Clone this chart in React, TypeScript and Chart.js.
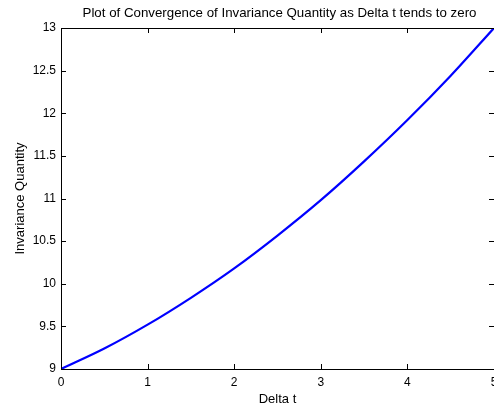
import React, { useEffect, useRef } from "react";
import { Chart, registerables } from "chart.js";

Chart.register(...registerables);

const deltaT = [0, 0.5, 1, 1.5, 2, 2.5, 3, 3.5, 4, 4.5, 5];
const invariance = [9, 9.24, 9.52, 9.835, 10.18, 10.565, 10.98, 11.435, 11.92, 12.44, 13];
const xTicks = [0, 1, 2, 3, 4, 5];
const yTicks = [9, 9.5, 10, 10.5, 11, 11.5, 12, 12.5, 13];
const yTickLabels = ["9", "9.5", "10", "10.5", "11", "11.5", "12", "12.5", "13"];

const titleText = "Plot of Convergence of Invariance Quantity as Delta t tends to zero";
const xTitle = "Delta t";
const yTitle = "Invariance Quantity";

const FONT = "Liberation Sans, Arial, Helvetica, sans-serif";

const framePlugin = {
  id: "matlabFrame",
  afterDraw(chart: any) {
    const { ctx, chartArea, scales } = chart;
    const { left, right, top, bottom } = chartArea;
    ctx.save();
    ctx.strokeStyle = "#000";
    ctx.lineWidth = 1;
    ctx.beginPath();
    ctx.moveTo(left + 0.5, bottom + 0.5);
    ctx.lineTo(left + 0.5, top + 0.5);
    ctx.lineTo(right + 1, top + 0.5);
    ctx.moveTo(left + 0.5, bottom + 0.5);
    ctx.lineTo(right + 1, bottom + 0.5);
    ctx.stroke();
    const tl = 5;
    ctx.beginPath();
    for (const v of xTicks) {
      const px = Math.round(scales.x.getPixelForValue(v)) + 0.5;
      ctx.moveTo(px, bottom);
      ctx.lineTo(px, bottom - tl);
      ctx.moveTo(px, top);
      ctx.lineTo(px, top + tl);
    }
    for (const v of yTicks) {
      const py = Math.round(scales.y.getPixelForValue(v)) + 0.5;
      ctx.moveTo(left, py);
      ctx.lineTo(left + tl, py);
      ctx.moveTo(right, py);
      ctx.lineTo(right - tl, py);
    }
    ctx.stroke();

    ctx.fillStyle = "#000";
    ctx.textAlign = "center";
    ctx.textBaseline = "alphabetic";
    const cx = (left + right) / 2;
    ctx.font = `13.3px ${FONT}`;
    ctx.fillText(titleText, cx + 2, 17);
    ctx.font = `13px ${FONT}`;
    ctx.fillText(xTitle, cx, 403);
    ctx.translate(24, (top + bottom) / 2);
    ctx.rotate(-Math.PI / 2);
    ctx.fillText(yTitle, 0, 0);
    ctx.restore();
  },
};

export default function App() {
  const ref = useRef<HTMLCanvasElement>(null);
  useEffect(() => {
    document.body.style.margin = "0";
    const chart = new Chart(ref.current!, {
      type: "line",
      data: {
        datasets: [
          {
            data: deltaT.map((x, i) => ({ x, y: invariance[i] })),
            borderColor: "#0000ff",
            borderWidth: 2.2,
            pointRadius: 0,
            tension: 0.4,
            cubicInterpolationMode: "monotone",
            fill: false,
          },
        ],
      },
      options: {
        animation: false,
        responsive: false,
        layout: { padding: { top: 28, right: 0, left: 0, bottom: 0 } },
        plugins: { legend: { display: false }, title: { display: false }, tooltip: { enabled: false } },
        scales: {
          x: {
            type: "linear",
            min: 0,
            max: 5,
            afterFit: (s: any) => {
              s.height = 39;
              s.paddingLeft = 0;
              s.paddingRight = 0;
            },
            grid: { display: false, drawTicks: false },
            border: { display: false },
            afterBuildTicks: (s: any) => { s.ticks = xTicks.map((v) => ({ value: v })); },
            ticks: { color: "#000", font: { family: FONT, size: 12 }, padding: 6, maxRotation: 0, callback: (v: any) => String(v) },
          },
          y: {
            type: "linear",
            min: 9,
            max: 13,
            afterFit: (s: any) => {
              s.width = 61;
              s.paddingTop = 0;
              s.paddingBottom = 0;
            },
            grid: { display: false, drawTicks: false },
            border: { display: false },
            afterBuildTicks: (s: any) => { s.ticks = yTicks.map((v) => ({ value: v })); },
            ticks: {
              color: "#000",
              font: { family: FONT, size: 12 },
              padding: 5,
              callback: (v: any) => yTickLabels[yTicks.indexOf(Number(v))] ?? String(v),
            },
          },
        },
      },
      plugins: [framePlugin],
    } as any);
    return () => chart.destroy();
  }, []);
  return <canvas ref={ref} width={494} height={408} style={{ display: "block" }} />;
}
